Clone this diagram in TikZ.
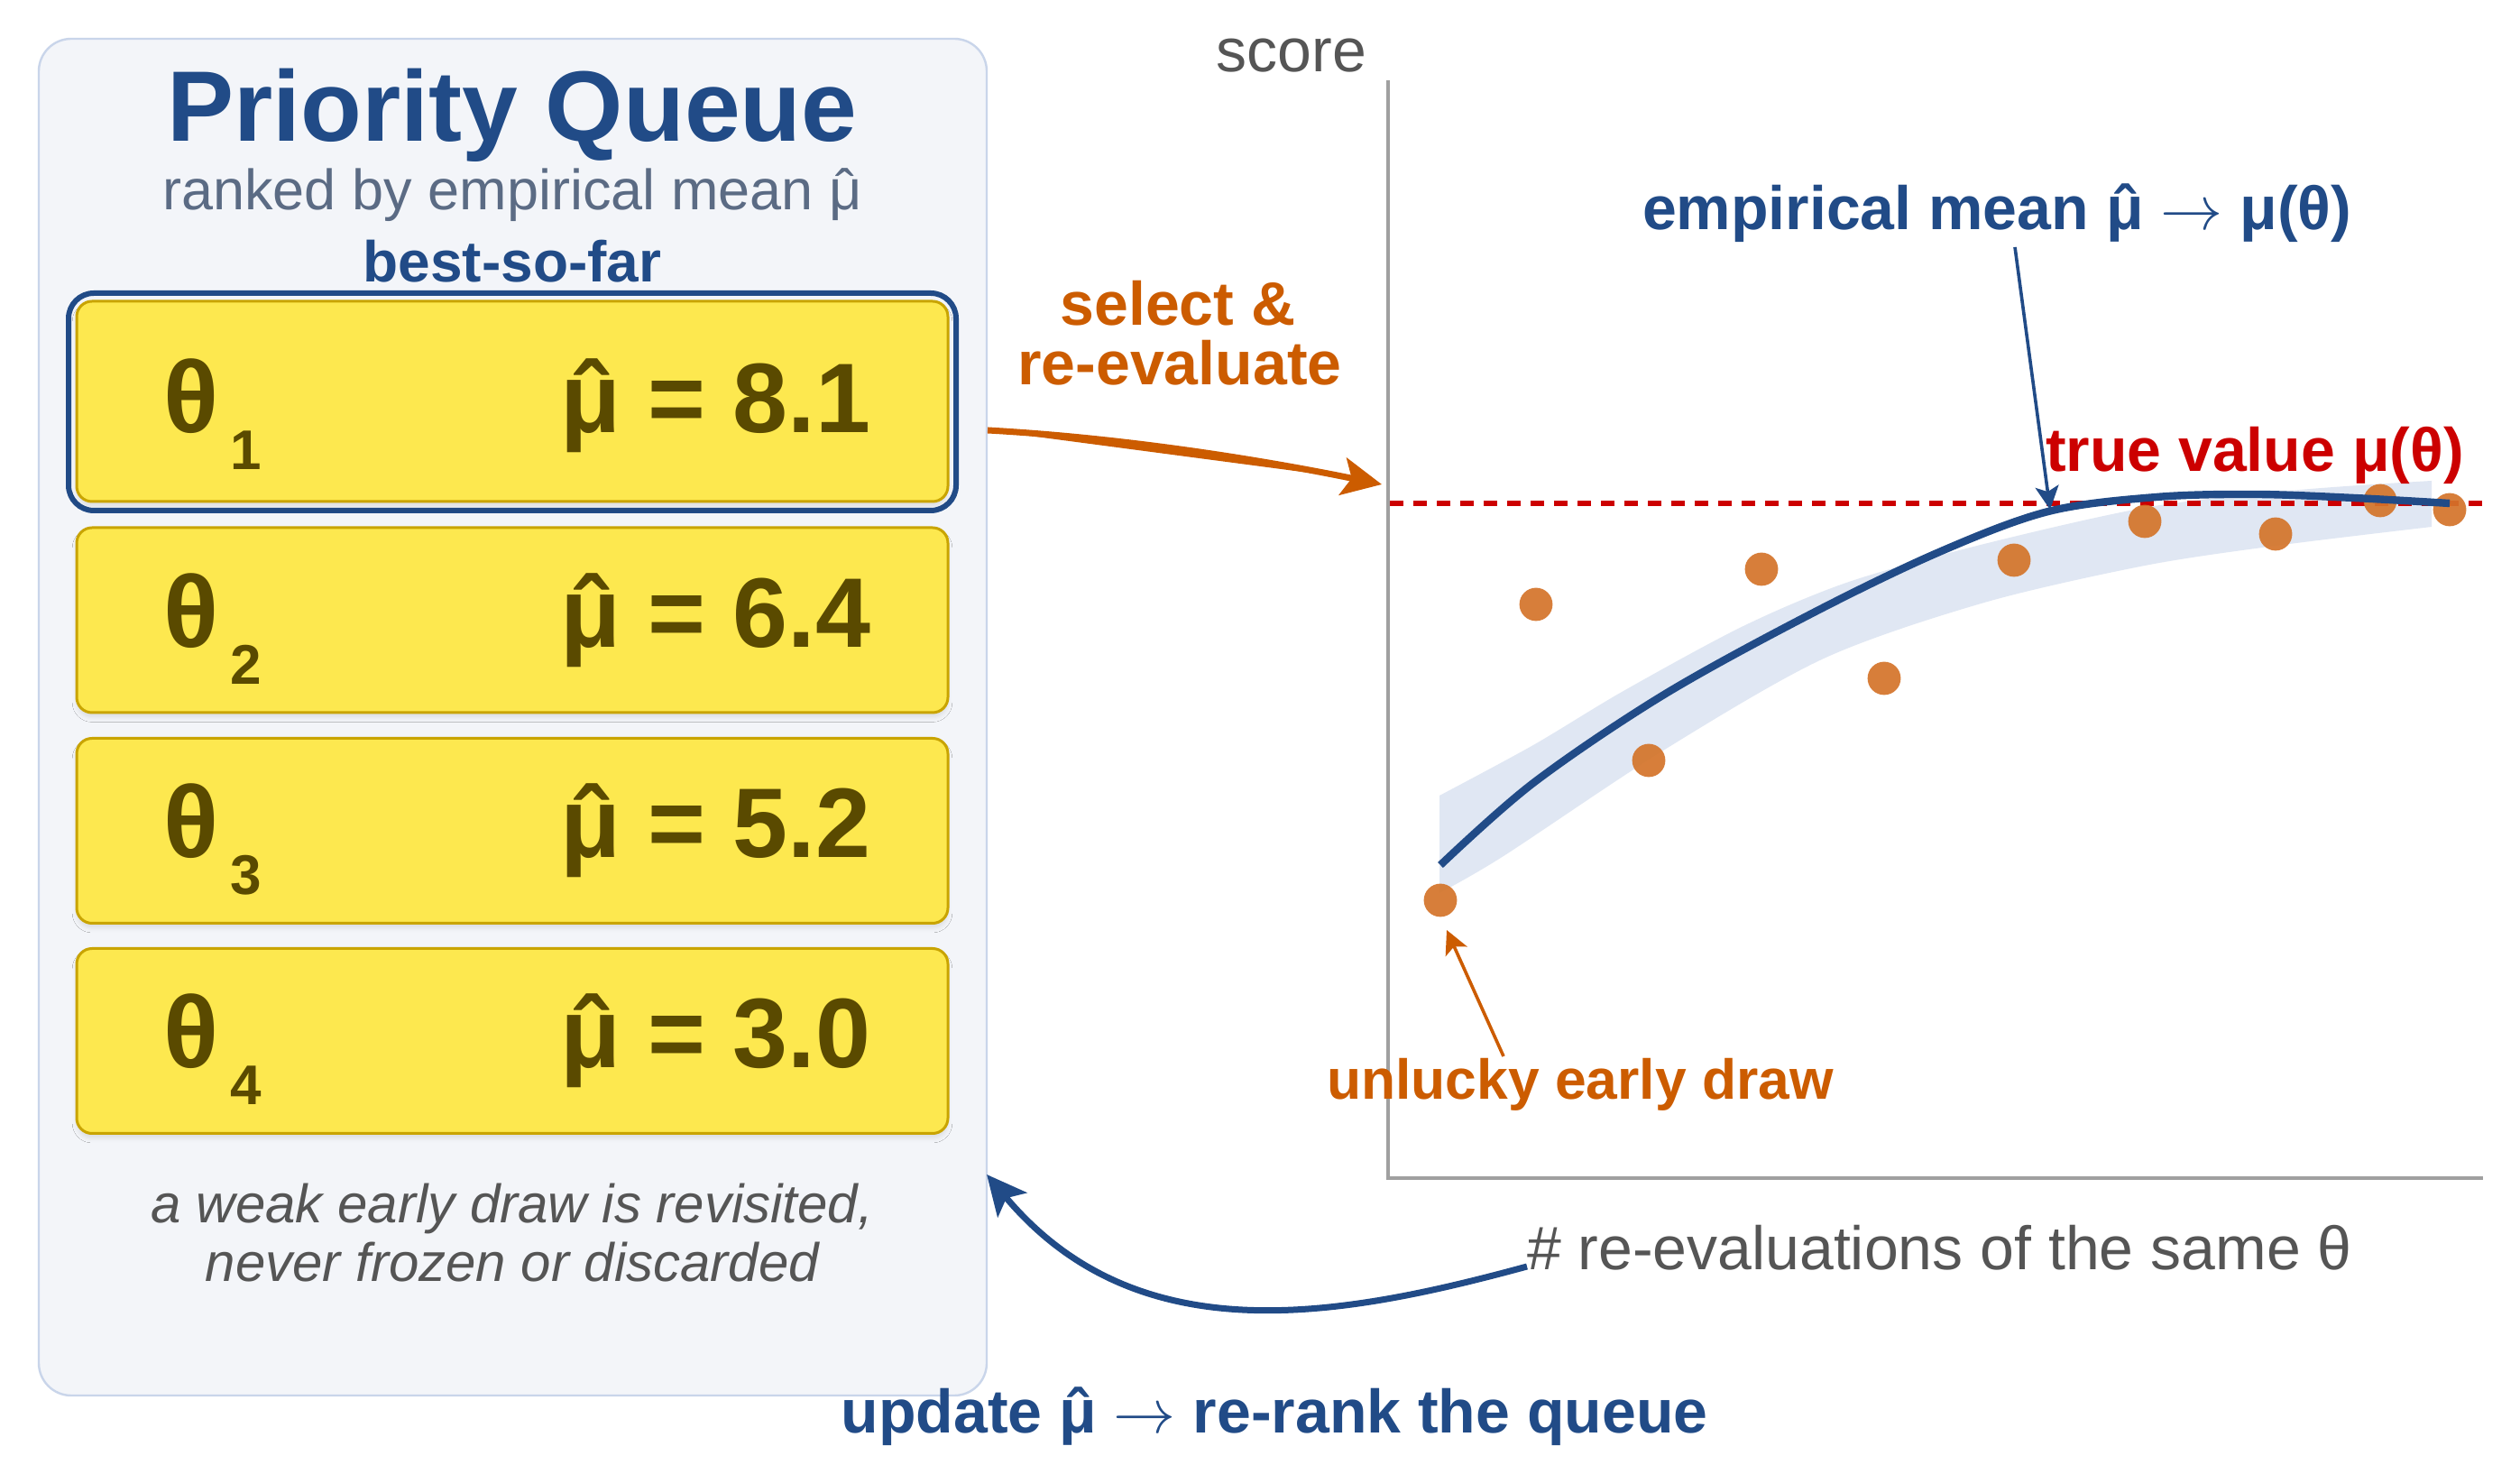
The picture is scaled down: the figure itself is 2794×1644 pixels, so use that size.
\documentclass[tikz,border=0pt]{standalone}
\usepackage{fontspec}
\setmainfont{Liberation Sans}
\usetikzlibrary{arrows.meta,shadows.blur}
\definecolor{qblue}{HTML}{214B87}
\definecolor{qsub}{HTML}{5B6B84}
\definecolor{qyellow}{HTML}{FDE84F}
\definecolor{qgold}{HTML}{C9A400}
\definecolor{qtext}{HTML}{5A4A00}
\definecolor{qpanel}{HTML}{F3F5F9}
\definecolor{qpanelb}{HTML}{C9D5EA}
\definecolor{qorange}{HTML}{CC5C00}
\definecolor{qdot}{HTML}{D4742A}
\definecolor{qband}{HTML}{E0E7F3}
\definecolor{qred}{HTML}{CC0000}
\definecolor{qaxis}{HTML}{A0A0A0}
\definecolor{qgray}{HTML}{555555}
\newcommand{\fsz}[1]{\fontsize{#1}{#1}\selectfont}
\newcommand{\mh}{\accent"02C6 μ}
\newcommand{\rarr}{\ensuremath{\rightarrow}}
\tikzset{
  panelbox/.style={draw=qpanelb, line width=0.6pt, fill=qpanel, rounded corners=9pt, inner sep=0pt},
  qbox/.style={draw=qgold, line width=0.75pt, fill=qyellow, rounded corners=4.25pt, inner sep=0pt,
    minimum width=241.5pt, minimum height=51.25pt,
    blur shadow={shadow xshift=0pt, shadow yshift=-1.4pt, shadow blur radius=1.2pt, shadow opacity=9}},
  hlbox/.style={draw=qblue, line width=1.5pt, rounded corners=7pt, inner sep=0pt},
  txt/.style={inner sep=0pt, outer sep=0pt},
  bigtxt/.style={txt, anchor=base west, text=qtext, font=\bfseries\fsz{28.25pt}},
  valtxt/.style={txt, anchor=base west, text=qtext, font=\bfseries\fsz{27.4pt}},
  subtxt/.style={txt, anchor=base west, text=qtext, font=\bfseries\fsz{15.5pt}},
  graylbl/.style={txt, text=qgray, font=\fsz{17pt}},
  bluelbl/.style={txt, text=qblue, font=\bfseries\fsz{17pt}},
  redlbl/.style={txt, text=qred, font=\bfseries\fsz{17pt}},
  orlbl/.style={txt, text=qorange, font=\bfseries\fsz{17pt}},
  notelbl/.style={txt, anchor=base, text=qgray, font=\itshape\fsz{15pt}},
  axisline/.style={draw=qaxis, line width=1pt},
  truel/.style={draw=qred, line width=1.5pt, dash pattern=on 3.75pt off 2.75pt},
  meancurve/.style={draw=qblue, line width=2.1pt},
  dotc/.style={fill=qdot, fill opacity=0.92},
  bigarrow/.style={line width=1.75pt, -{Stealth[length=11pt,width=10.5pt,inset=2.5pt]}},
  thinarrow/.style={line width=0.9pt, -{Stealth[length=6.5pt,width=6.5pt,inset=1.5pt]}}
}
\begin{document}
\begin{tikzpicture}[x=0.25pt,y=-0.25pt]
\fill[white] (0,0) rectangle (2794,1644);
\useasboundingbox (0,0) rectangle (2794,1644);

% ---------- left panel ----------
\node[panelbox, minimum width=262.75pt, minimum height=376pt] (panel) at (568.5,795) {};
\node[txt, anchor=base, text=qblue, font=\bfseries\fsz{27.75pt}] (title) at (568,157) {Priority Queue};
\node[txt, anchor=base, text=qsub, font=\fsz{15.75pt}] (ranked) at (568,233) {ranked by empirical mean \mh};
\node[txt, anchor=base, text=qblue, font=\bfseries\fsz{16pt}] (best) at (568,313) {best-so-far};

\node[hlbox, minimum width=246pt, minimum height=60.25pt] (hl) at (568,445.5) {};
\node[qbox, minimum height=55.5pt] (b1) at (568,445) {};
\node[qbox] (b2) at (568,687.5) {};
\node[qbox] (b3) at (568,921) {};
\node[qbox] (b4) at (568,1154) {};

\node[bigtxt] (t1) at (181,480) {θ};
\node[subtxt] (s1) at (255,521) {1};
\node[valtxt] (m1) at (621,480) {\mh{} = 8.1};

\node[bigtxt] (t2) at (181,718) {θ};
\node[subtxt] (s2) at (255,759) {2};
\node[valtxt] (m2) at (621,718) {\mh{} = 6.4};

\node[bigtxt] (t3) at (181,951) {θ};
\node[subtxt] (s3) at (255,992) {3};
\node[valtxt] (m3) at (621,951) {\mh{} = 5.2};

\node[bigtxt] (t4) at (181,1184) {θ};
\node[subtxt] (s4) at (255,1225) {4};
\node[valtxt] (m4) at (621,1184) {\mh{} = 3.0};

\node[notelbl] (note1) at (568,1356) {a weak early draw is revisited,};
\node[notelbl] (note2) at (568,1421) {never frozen or discarded};

% ---------- chart ----------
\coordinate (yt) at (1539,89);
\coordinate (o) at (1539,1306);
\coordinate (xe) at (2753,1306);

\fill[qband] plot[smooth] coordinates {(1596,882) (1700,826) (1800,766) (1933,694) (2050,645) (2200,603) (2383,562) (2550,543) (2696,533)}
  -- plot[smooth] coordinates {(2696,584) (2523,605) (2378,627) (2200,668) (2022,730) (1844,832) (1667,949) (1596,990)} -- cycle;

\coordinate (tvS) at (1541,558);
\coordinate (tvE) at (2753,558);
\draw[truel] (tvS) -- (tvE);

\foreach \px/\py [count=\i] in {1597/998,1703/670,1828/843,1953/631,2089/752,2233/621,2378/578,2523/592,2639/555,2716/565}
  \fill[dotc] (\px,\py) circle (4.6pt);

\draw[meancurve] plot[smooth, tension=0.55] coordinates {(1597,959) (1700,868) (1845,770) (2009,680) (2150,612) (2271,567) (2391,551) (2501,548) (2610,552) (2716,558)};

\draw[axisline] (yt) -- (o) -- (xe);

\node[graylbl, anchor=base east] (score) at (1515,80) {score};
\node[graylbl, anchor=base west] (xlab) at (1693,1408) {\# re-evaluations of the same θ};
\node[redlbl, anchor=base west] (tv) at (2268,523) {true value μ(θ)};
\node[bluelbl, anchor=base west] (emp) at (1821,255) {empirical mean \mh{} \rarr{} μ(θ)};
\node[orlbl, anchor=base] (sel1) at (1306,361) {select \&};
\node[orlbl, anchor=base] (sel2) at (1308,427) {re-evaluate};
\node[orlbl, anchor=base west, font=\bfseries\fsz{15.6pt}] (unl) at (1471,1219) {unlucky early draw};
\node[bluelbl, anchor=base] (upd) at (1413,1588) {update \mh{} \rarr{} re-rank the queue};

% ---------- connectors ----------
\coordinate (selS) at (1095,477);
\coordinate (selE) at (1532,537);
\draw[bigarrow, draw=qorange, fill=qorange] (selS) .. controls (1240,485) and (1390,508) .. (selE);

\coordinate (empS) at (2234,274);
\coordinate (empE) at (2273,565);
\draw[thinarrow, draw=qblue, fill=qblue] (empS) -- (empE);

\coordinate (unlS) at (1667,1171);
\coordinate (unlE) at (1604,1031);
\draw[thinarrow, draw=qorange, fill=qorange] (unlS) -- (unlE);

\coordinate (updS) at (1693,1404);
\coordinate (updE) at (1094,1302);
\draw[bigarrow, draw=qblue] (updS) .. controls (1480,1462) and (1260,1500) .. (updE);
\end{tikzpicture}
\end{document}
